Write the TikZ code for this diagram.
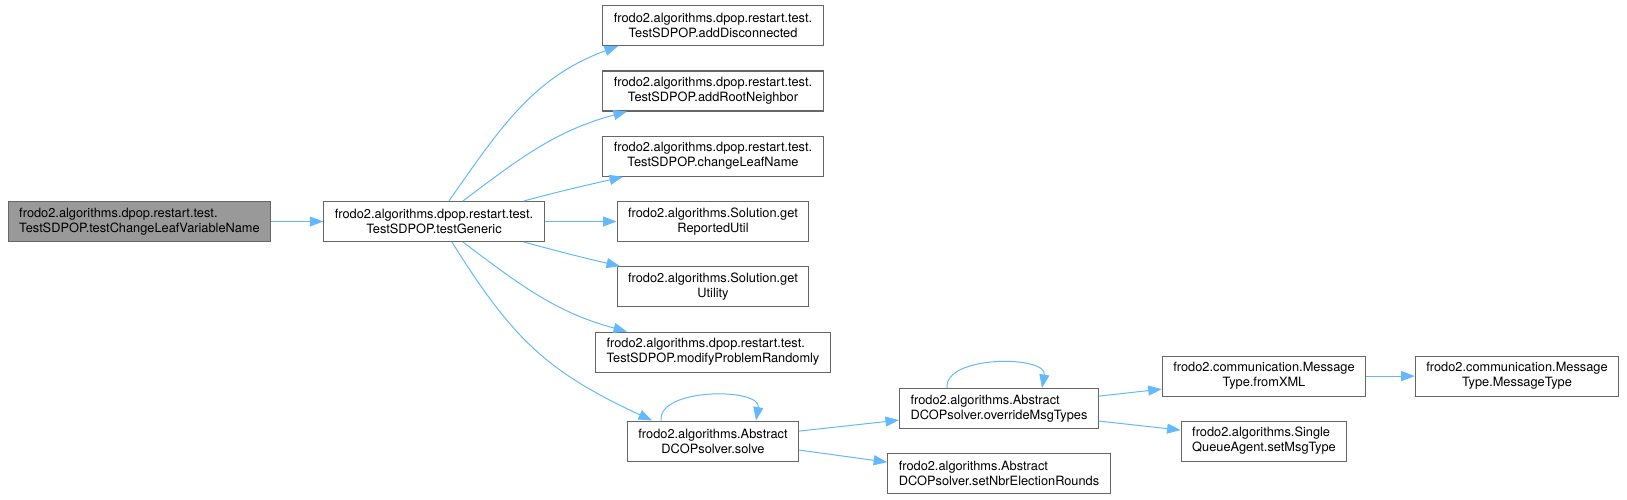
\documentclass[tikz,border=0pt]{standalone}
\usepackage{fontspec}
\setmainfont{TeX Gyre Heros}
\usetikzlibrary{positioning,arrows.meta}
\definecolor{edgeblue}{HTML}{63B8FF}
\definecolor{boxgray}{HTML}{666666}
\definecolor{rootgray}{HTML}{999999}
\begin{document}
\begin{tikzpicture}[x=1pt,y=1pt,node distance=0pt,
  every node/.style={rectangle,draw=boxgray,line width=1.2pt,fill=white,minimum height=40pt,
    inner xsep=11pt,inner ysep=3pt,align=center,font=\fontsize{12.8}{15}\selectfont},
  lft/.style={align=left},
  call/.style={draw=edgeblue,line width=1pt,-{Triangle[length=13.5pt,width=10pt]}}]
  \useasboundingbox (-139.5,221.5) rectangle (1487.5,-277.5);
  \node (a) [lft,fill=rootgray] {frodo2.algorithms.dpop.restart.test.\\TestSDPOP.testChangeLeafVariableName};
  \node (b) [right of=a,xshift=294.5pt] {frodo2.algorithms.dpop.restart.test.\\TestSDPOP.testGeneric};
  \node (f) [right of=b,xshift=279pt] {frodo2.algorithms.Solution.get\\ReportedUtil};
  \node (e) [above of=f,yshift=65.3pt] {frodo2.algorithms.dpop.restart.test.\\TestSDPOP.changeLeafName};
  \node (d) [above of=e,yshift=65.3pt] {frodo2.algorithms.dpop.restart.test.\\TestSDPOP.addRootNeighbor};
  \node (c) [above of=d,yshift=65.3pt] {frodo2.algorithms.dpop.restart.test.\\TestSDPOP.addDisconnected};
  \node (g) [below of=f,yshift=-65.3pt] {frodo2.algorithms.Solution.get\\Utility};
  \node (h) [lft,below of=g,yshift=-65.3pt] {frodo2.algorithms.dpop.restart.test.\\TestSDPOP.modifyProblemRandomly};
  \node (i) [below of=h,yshift=-89pt] {frodo2.algorithms.Abstract\\DCOPsolver.solve};
  \node (j) [lft,right of=i,xshift=286pt,yshift=32.5pt] {frodo2.algorithms.Abstract\\DCOPsolver.overrideMsgTypes};
  \node (k) [lft,below of=j,yshift=-64.5pt] {frodo2.algorithms.Abstract\\DCOPsolver.setNbrElectionRounds};
  \node (l) [right of=j,xshift=265pt,yshift=32.5pt] {frodo2.communication.Message\\Type.fromXML};
  \node (m) [lft,below of=l,yshift=-65pt] {frodo2.algorithms.Single\\QueueAgent.setMsgType};
  \node (n) [right of=l,xshift=253pt] {frodo2.communication.Message\\Type.MessageType};
  % call edges
  \draw[call] (a) -- (b);
  \draw[call] ([xshift=15pt]b.north) to[out=55,in=200] ([xshift=-95pt]c.south);
  \draw[call] ([xshift=29pt]b.north) to[out=37,in=195] ([xshift=-86pt]d.south);
  \draw[call] ([xshift=90pt]b.north) to[out=15,in=193] ([xshift=-90pt]e.south);
  \draw[call] (b) -- (f);
  \draw[call] ([xshift=90pt]b.south) to[out=-15,in=167] ([xshift=-93pt]g.north);
  \draw[call] ([xshift=29pt]b.south) to[out=-37,in=165] ([xshift=-86pt]h.north);
  \draw[call] ([xshift=18pt]b.south) to[out=-58,in=155,looseness=1.1] ([xshift=-61pt]i.north);
  \draw[call] ([xshift=-52pt]i.north) to[out=95,in=80,looseness=0.9] ([xshift=43pt]i.north);
  \draw[call] ([yshift=10pt]i.east) -- ([yshift=-11.5pt]j.west);
  \draw[call] ([yshift=-9pt]i.east) -- ([yshift=11pt]k.west);
  \draw[call] ([xshift=-52pt]j.north) to[out=95,in=80,looseness=0.9] ([xshift=43pt]j.north);
  \draw[call] ([yshift=12.5pt]j.east) -- ([yshift=-13pt]l.west);
  \draw[call] ([yshift=-12.5pt]j.east) -- ([yshift=11pt]m.west);
  \draw[call] (l) -- (n);
\end{tikzpicture}
\end{document}
